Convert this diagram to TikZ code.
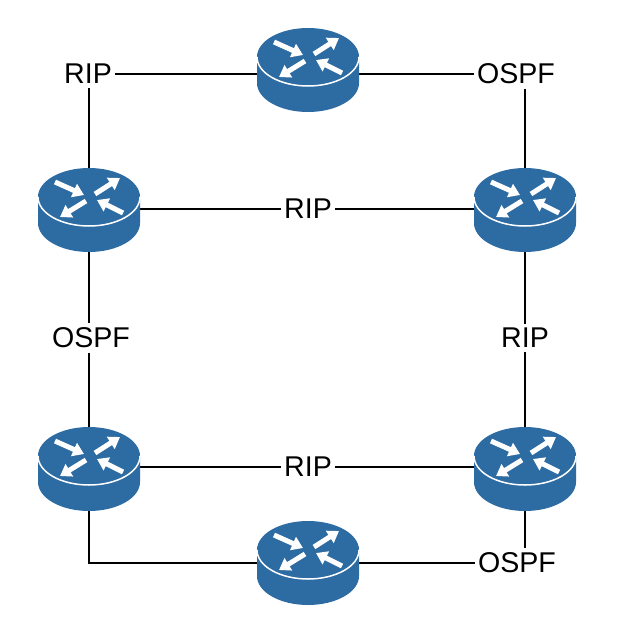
\documentclass[tikz,border=0pt]{standalone}
\usepackage{fontspec}
\setmainfont{Liberation Sans}
\usetikzlibrary{arrows.meta}
\definecolor{routerblue}{RGB}{45,107,163}
\tikzset{
	routerbox/.style = {rectangle, minimum width = 3.06cm, minimum height = 2.52cm, inner sep = 0pt},
	proto/.style = {font = \fontsize{24.4}{28}\selectfont, inner xsep = .09cm, inner ysep = .13cm},
	link/.style = {line width = .06cm},
	flow/.style = {line width = .15cm, white, -{Triangle[length = .33cm, width = .42cm]}},
	pics/routericon/.style = {code = {
		\fill [routerblue] (-51, -13) -- (-51, 13) arc [start angle = 180, end angle = 0, x radius = 51, y radius = 29]
			-- (51, -13) arc [start angle = 0, end angle = -180, x radius = 51, y radius = 29] -- cycle;
		\draw [white, line width = .045cm] (-51, -13) arc [start angle = 180, end angle = 0, x radius = 51, y radius = 29];
		\draw [flow] (-34, -28) -- (-5, -15);
		\draw [flow] (6, -16) -- (31, -32);
		\draw [flow] (-3, -9) -- (-29, 7);
		\draw [flow] (34, 3) -- (8, -10);
	}}
}
\begin{document}
\begin{tikzpicture}[x = .03cm, y = -.03cm]
	\useasboundingbox (0, 0) rectangle (619, 633);

	\node [routerbox] (r1) at (308, 70) {};
	\node [routerbox] (r2) at (89, 210) {};
	\node [routerbox] (r3) at (525, 210) {};
	\node [routerbox] (r4) at (89, 469) {};
	\node [routerbox] (r5) at (525, 469) {};
	\node [routerbox] (r6) at (308, 563) {};

	\node [proto] (l1) at (88, 74) {RIP};
	\node [proto] (l2) at (516, 74) {OSPF};
	\node [proto] (l3) at (308, 209) {RIP};
	\node [proto] (l4) at (91, 338) {OSPF};
	\node [proto] (l5) at (525, 338) {RIP};
	\node [proto] (l6) at (308, 467) {RIP};
	\node [proto] (l7) at (517, 563) {OSPF};

	\draw [link] (l1.east) -- (l1.east -| r1.west);
	\draw [link] (r1.east |- l2.west) -- (l2.west);
	\draw [link] (l1.south -| r2.north) -- (r2.north);
	\draw [link] (l2.south -| r3.north) -- (r3.north);
	\draw [link] (r2.east |- l3.west) -- (l3.west);
	\draw [link] (l3.east) -- (l3.east -| r3.west);
	\draw [link] (r2.south) -- (r2.south |- l4.north);
	\draw [link] (l4.south -| r4.north) -- (r4.north);
	\draw [link] (r3.south) -- (l5.north);
	\draw [link] (l5.south) -- (r5.north);
	\draw [link] (r4.east |- l6.west) -- (l6.west);
	\draw [link] (l6.east) -- (l6.east -| r5.west);
	\draw [link] (r4.south) |- (r6.west);
	\draw [link] (r6.east) -- (r6.east -| l7.west);
	\draw [link] (r5.south) -- (r5.south |- l7.north);

	\foreach \r in {r1, r2, r3, r4, r5, r6}
		\pic at (\r) {routericon};
\end{tikzpicture}
\end{document}
